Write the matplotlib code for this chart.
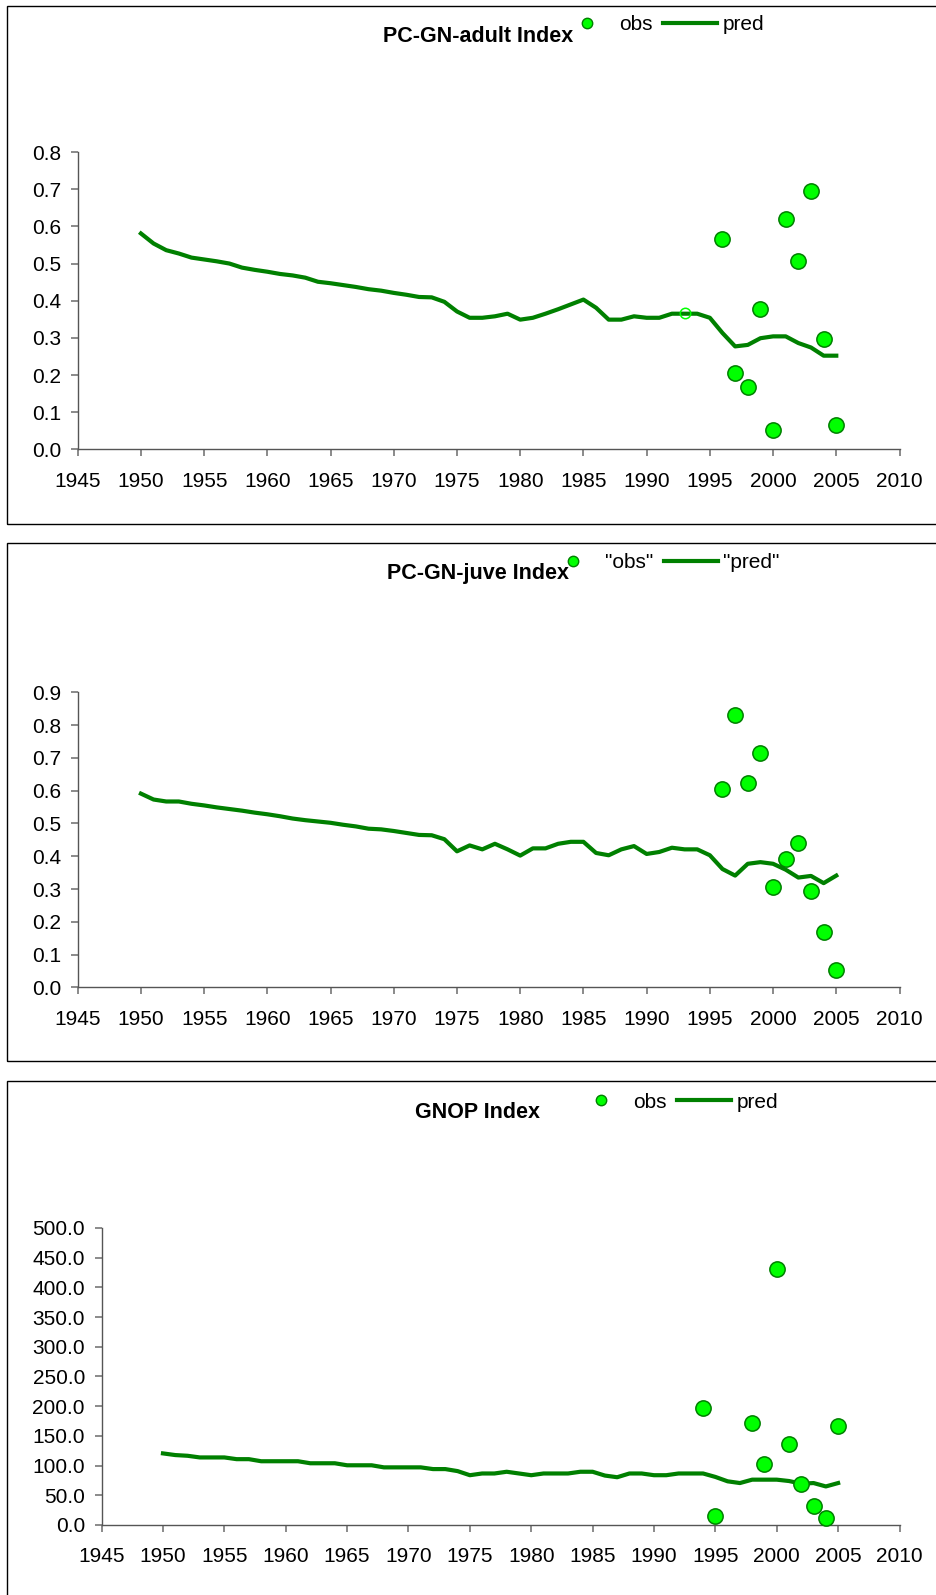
import numpy as np
import matplotlib
matplotlib.use("Agg")
import matplotlib.pyplot as plt
from matplotlib.lines import Line2D
from matplotlib.patches import Rectangle

plt.rcParams['font.family'] = ['Liberation Sans', 'DejaVu Sans']

# prediction years, shared by all three panels
pred_years = np.arange(1950, 2006)

# PC-GN-adult index
adult_pred = [0.581, 0.554, 0.536, 0.527, 0.516, 0.511, 0.506, 0.500, 0.489, 0.483,
              0.478, 0.472, 0.468, 0.462, 0.451, 0.447, 0.442, 0.437, 0.431, 0.427,
              0.421, 0.416, 0.410, 0.409, 0.397, 0.371, 0.354, 0.354, 0.358, 0.365,
              0.349, 0.354, 0.365, 0.377, 0.390, 0.403, 0.381, 0.349, 0.349, 0.358,
              0.354, 0.354, 0.365, 0.365, 0.365, 0.354, 0.313, 0.277, 0.281, 0.299,
              0.304, 0.304, 0.286, 0.274, 0.252, 0.252]
adult_obs_years = [1996, 1997, 1998, 1999, 2000, 2001, 2002, 2003, 2004, 2005]
adult_obs = [0.566, 0.206, 0.168, 0.379, 0.051, 0.620, 0.507, 0.694, 0.298, 0.066]
adult_hollow_years = [1993]
adult_hollow = [0.366]

# PC-GN-juve index
juve_pred = [0.591, 0.573, 0.567, 0.567, 0.560, 0.555, 0.549, 0.544, 0.539, 0.533,
             0.528, 0.522, 0.515, 0.510, 0.506, 0.502, 0.496, 0.491, 0.484, 0.482,
             0.477, 0.471, 0.465, 0.464, 0.452, 0.415, 0.433, 0.421, 0.438, 0.421,
             0.402, 0.424, 0.424, 0.438, 0.444, 0.444, 0.410, 0.403, 0.421, 0.431,
             0.407, 0.413, 0.426, 0.421, 0.421, 0.403, 0.361, 0.341, 0.377, 0.382,
             0.377, 0.359, 0.335, 0.340, 0.318, 0.341]
juve_obs_years = [1996, 1997, 1998, 1999, 2000, 2001, 2002, 2003, 2004, 2005]
juve_obs = [0.604, 0.831, 0.624, 0.714, 0.307, 0.393, 0.440, 0.295, 0.168, 0.053]

# GNOP index
gnop_pred = [120.5, 117.7, 116.5, 113.7, 113.7, 113.7, 110.8, 110.8, 107.3, 107.3,
             107.3, 107.3, 103.9, 103.9, 103.9, 100.5, 100.5, 100.5, 97.0, 97.0,
             97.0, 97.0, 94.1, 94.1, 90.7, 83.8, 86.7, 86.7, 89.6, 86.7,
             83.8, 86.7, 86.7, 86.7, 89.6, 89.6, 83.2, 80.4, 86.7, 86.7,
             83.8, 83.8, 86.7, 86.7, 86.7, 80.9, 73.5, 70.6, 76.3, 76.3,
             76.3, 74.0, 69.5, 70.6, 64.9, 70.6]
gnop_obs_years = [1994, 1995, 1998, 1999, 2000, 2001, 2002, 2003, 2004, 2005]
gnop_obs = [196.9, 14.9, 172.2, 102.2, 431.0, 136.0, 68.9, 31.6, 11.5, 166.5]

W, H = 937, 1595
fig = plt.figure(figsize=(W / 100, H / 100), dpi=100)

line_col = '#008000'
fill_col = '#00FF00'

# panel frames (pixels: top, bottom)
for top, bot in [(6, 524), (543, 1061), (1081, 1600)]:
    fig.patches.append(Rectangle((7.5 / W, 1 - bot / H), 1.0, (bot - top) / H,
                                 transform=fig.transFigure, fill=False,
                                 edgecolor='black', linewidth=1.0, clip_on=False))


def px_axes(left, right, top, bot):
    return fig.add_axes([left / W, 1 - bot / H, (right - left) / W, (bot - top) / H])


def style(ax, ymax, ystep, fmt):
    ax.set_xlim(1945, 2010)
    ax.set_ylim(0, ymax)
    ax.set_xticks(np.arange(1945, 2011, 5))
    ax.set_yticks(np.arange(0, ymax + ystep / 2, ystep))
    ax.yaxis.set_major_formatter(plt.FormatStrFormatter(fmt))
    for s in ['top', 'right']:
        ax.spines[s].set_visible(False)
    for s in ['left', 'bottom']:
        ax.spines[s].set_color('#555555')
        ax.spines[s].set_linewidth(1.0)
    ax.tick_params(axis='both', direction='out', length=5, width=1.2,
                   color='#777777', labelsize=15, labelcolor='black')
    ax.tick_params(axis='x', pad=11)
    ax.tick_params(axis='y', pad=7)
    ax.patch.set_alpha(0)


def legend_at(x, y, obs_label, pred_label):
    h = [Line2D([], [], linestyle='none', marker='o', markersize=7.5,
                markerfacecolor=fill_col, markeredgecolor=line_col, markeredgewidth=1.0),
         Line2D([], [], color=line_col, linewidth=3)]
    fig.legend(h, [obs_label, pred_label], loc='center left',
               bbox_to_anchor=(x / W, 1 - y / H), ncol=2, frameon=False,
               fontsize=15, handlelength=2.6, handletextpad=0.25,
               columnspacing=0.5, borderpad=0, borderaxespad=0)


def draw(ax, pred, oy, ov):
    ax.plot(pred_years, pred, color=line_col, linewidth=3, solid_joinstyle='round', zorder=2)
    ax.plot(oy, ov, linestyle='none', marker='o', markersize=11,
            markerfacecolor=fill_col, markeredgecolor=line_col,
            markeredgewidth=1.1, clip_on=False, zorder=3)


# panel 1
ax1 = px_axes(77.7, 899.5, 152.1, 449.3)
draw(ax1, adult_pred, adult_obs_years, adult_obs)
ax1.plot(adult_hollow_years, adult_hollow, linestyle='none', marker='o', markersize=7.5,
         markerfacecolor='none', markeredgecolor=fill_col, markeredgewidth=1.1, zorder=4)
style(ax1, 0.8, 0.1, '%.1f')
fig.text(478 / W, 1 - 37 / H, 'PC-GN-adult Index', ha='center', va='center',
         fontsize=15.5, fontweight='bold')
legend_at(560, 25, 'obs', 'pred')

# panel 2
ax2 = px_axes(77.7, 899.5, 692.3, 987.4)
draw(ax2, juve_pred, juve_obs_years, juve_obs)
style(ax2, 0.9, 0.1, '%.1f')
fig.text(478 / W, 1 - 574 / H, 'PC-GN-juve Index', ha='center', va='center',
         fontsize=15.5, fontweight='bold')
legend_at(546, 563, '"obs"', '"pred"')

# panel 3
ax3 = px_axes(101.6, 899.5, 1227.9, 1525.0)
draw(ax3, gnop_pred, gnop_obs_years, gnop_obs)
style(ax3, 500, 50, '%.1f')
fig.text(478 / W, 1 - 1112 / H, 'GNOP Index', ha='center', va='center',
         fontsize=15.5, fontweight='bold')
legend_at(574, 1102, 'obs', 'pred')

plt.savefig('out.png', dpi=100)
